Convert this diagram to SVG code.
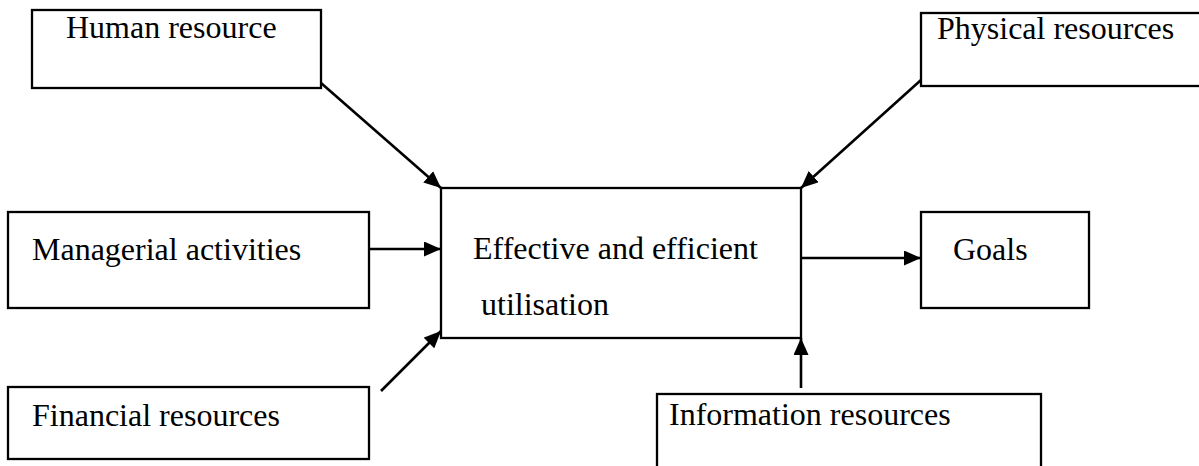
<svg xmlns="http://www.w3.org/2000/svg" width="1199" height="466" viewBox="0 0 1199 466">
<style>
.box{fill:#fff;stroke:#000;stroke-width:2.3}
.lbl{font-family:"Liberation Serif","Times New Roman",serif;font-size:32px;fill:#000}
.edge{stroke:#000;stroke-width:2.6;fill:none;marker-end:url(#ah)}
</style>
<defs>
<marker id="ah" viewBox="0 0 17 15" refX="17" refY="7.5" markerWidth="17" markerHeight="15" markerUnits="userSpaceOnUse" orient="auto">
<path d="M0,0 L17,7.5 L0,15 Z" fill="#000"/>
</marker>
</defs>
<rect width="1199" height="466" fill="#fff"/>
<g id="human"><rect class="box" x="32" y="10" width="289" height="78"/><text class="lbl" x="66" y="38">Human resource</text></g>
<g id="physical"><rect class="box" x="921" y="13" width="290" height="73"/><text class="lbl" x="937" y="39">Physical resources</text></g>
<g id="managerial"><rect class="box" x="8" y="212" width="361" height="96"/><text class="lbl" x="32" y="260">Managerial activities</text></g>
<g id="financial"><rect class="box" x="8" y="387" width="361" height="72"/><text class="lbl" x="32" y="426">Financial resources</text></g>
<g id="central"><rect class="box" x="441" y="188" width="360" height="150"/><text class="lbl" x="473" y="259">Effective and efficient</text><text class="lbl" x="481" y="315">utilisation</text></g>
<g id="goals"><rect class="box" x="921" y="212" width="168" height="96"/><text class="lbl" x="953" y="260">Goals</text></g>
<g id="information"><rect class="box" x="657" y="394" width="384" height="80"/><text class="lbl" x="669" y="425">Information resources</text></g>
<g id="connectors">
<line class="edge" x1="321" y1="83" x2="441" y2="188"/>
<line class="edge" x1="921" y1="80" x2="801" y2="188"/>
<line class="edge" x1="369" y1="249" x2="441" y2="249"/>
<line class="edge" x1="381" y1="391" x2="441" y2="331"/>
<line class="edge" x1="801" y1="258" x2="921" y2="258"/>
<line class="edge" x1="801" y1="388" x2="801" y2="338"/>
</g>
</svg>
